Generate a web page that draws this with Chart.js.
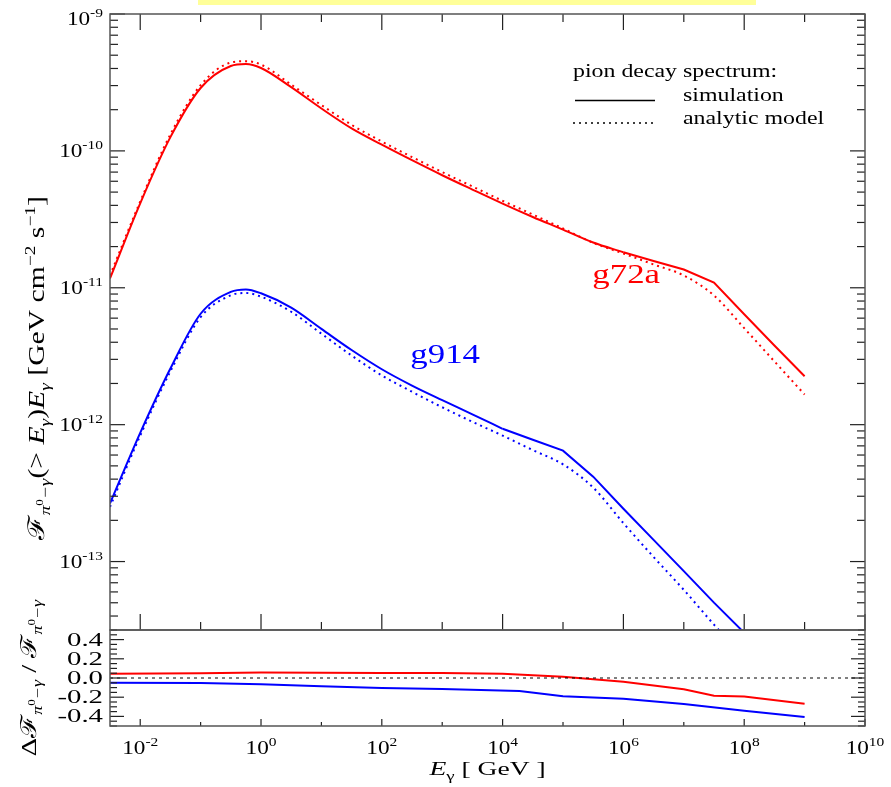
<!DOCTYPE html>
<html>
<head>
<meta charset="utf-8">
<script src="https://cdn.jsdelivr.net/npm/chart.js@4.4.0/dist/chart.umd.min.js"></script>
<style>
  html, body { margin: 0; padding: 0; background: #fff; }
  #wrap { position: relative; width: 891px; height: 787px; overflow: hidden; }
  #topChart { position: absolute; left: 0; top: 0; }
  #ratioChart { position: absolute; left: 0; top: 560px; }
  #strip { position: absolute; left: 198px; top: 0; width: 558px; height: 5px; background: #ffff99; }
</style>
</head>
<body>
<div id="wrap">
  <canvas id="topChart" width="891" height="631"></canvas>
  <canvas id="ratioChart" width="891" height="227"></canvas>
  <div id="strip"></div>
</div>
<script>
// Pion decay spectrum: simulation vs analytic model, two remnants

// photon energy grid [GeV]
const energyGeV = [3.16e-3, 1e-2, 3.16e-2, 0.1, 0.316, 0.562, 1, 3.16, 10, 31.6, 100, 316, 1e3, 3.16e3,
    1e4, 3.16e4, 1e5, 3.16e5, 1e6, 3.16e6, 1e7, 3.16e7, 1e8, 3.16e8, 1e9];

// integral flux times E [GeV cm^-2 s^-1]
const g72aSim = [1.17e-11, 4.14e-11, 1.26e-10, 2.88e-10, 4.17e-10, 4.31e-10, 4.03e-10, 2.92e-10, 2.04e-10,
    1.46e-10, 1.11e-10, 8.55e-11, 6.64e-11, 5.22e-11, 4.12e-11, 3.29e-11, 2.66e-11, 2.14e-11, 1.82e-11,
    1.57e-11, 1.36e-11, 1.09e-11, 6.41e-12, 3.79e-12, 2.26e-12];
const g72aModel = [1.23e-11, 4.27e-11, 1.32e-10, 3.02e-10, 4.42e-10, 4.52e-10, 4.27e-10, 3.05e-10, 2.16e-10,
    1.55e-10, 1.17e-10, 9.02e-11, 7.00e-11, 5.50e-11, 4.32e-11, 3.43e-11, 2.71e-11, 2.13e-11, 1.78e-11,
    1.48e-11, 1.23e-11, 8.79e-12, 5.07e-12, 2.90e-12, 1.66e-12];
const g914Sim = [2.66e-13, 8.71e-13, 2.57e-12, 6.46e-12, 9.33e-12, 9.73e-12, 9.12e-12, 7.16e-12, 5.01e-12,
    3.51e-12, 2.54e-12, 1.93e-12, 1.51e-12, 1.19e-12, 9.33e-13, 7.76e-13, 6.46e-13, 4.17e-13, 2.43e-13,
    1.44e-13, 8.51e-14, 5.01e-14, 3.02e-14, 1.78e-14, 1.05e-14];
const g914Model = [2.51e-13, 8.32e-13, 2.45e-12, 6.10e-12, 8.81e-12, 9.16e-12, 8.61e-12, 6.68e-12, 4.62e-12,
    3.20e-12, 2.29e-12, 1.74e-12, 1.34e-12, 1.05e-12, 8.32e-13, 6.52e-13, 5.13e-13, 3.47e-13, 1.91e-13,
    1.08e-13, 6.21e-14, 3.46e-14, 1.98e-14, 1.11e-14, 6.22e-15];

// the simulated spectra are coarse at high energy: straight segments from these indices on
const g72aKneeIndex = 18;
const g914KneeIndex = 14;

// relative difference panel
const g72aRatioE = [3.16e-3, 0.1, 1, 10, 100, 1e3, 1e4, 1e5, 1e6, 1e7, 3.16e7, 1e8, 1e9];
const g72aRatio = [0.043, 0.05, 0.057, 0.055, 0.052, 0.052, 0.043, 0.014, -0.04, -0.118, -0.185, -0.193, -0.267];
const g914RatioE = [3.16e-3, 0.1, 1, 10, 100, 1e3, 1.9e4, 1e5, 1e6, 1e7, 1e8, 1e9];
const g914Ratio = [-0.05, -0.052, -0.065, -0.085, -0.103, -0.115, -0.136, -0.189, -0.217, -0.27, -0.342, -0.406];

// tick labels
const xTickExp = [-2, 0, 2, 4, 6, 8, 10];
const xTickLabels = ['-2', '0', '2', '4', '6', '8', '10'];
const fluxTickExp = [-13, -12, -11, -10, -9];
const fluxTickLabels = ['-13', '-12', '-11', '-10', '-9'];
const ratioTickValues = [-0.4, -0.2, 0, 0.2, 0.4];
const ratioTickLabels = ['-0.4', '-0.2', '0.0', '0.2', '0.4'];

const RED = '#ff0000';
const BLUE = '#0000ff';
const X_MIN = 3.16e-3;
const X_MAX = 1e10;
const SERIF = '"Liberation Serif", "Times New Roman", "DejaVu Serif", serif';

function pts(xs, ys, from, to) {
    const out = xs.map((e, i) => ({ x: e, y: ys[i] }));
    return out.slice(from || 0, to === undefined ? out.length : to);
}

function font(size, italic) {
    return (italic ? 'italic ' : '') + size + 'px ' + SERIF;
}

// draw a row of text runs (for sub/superscripts), stretched horizontally
function drawRuns(ctx, runs, x, y, opt) {
    const sx = opt.sx || 1;
    ctx.save();
    ctx.translate(x, y);
    if (opt.rotate) ctx.rotate(opt.rotate);
    ctx.scale(sx, 1);
    ctx.fillStyle = opt.color || '#000';
    ctx.textBaseline = 'alphabetic';
    ctx.textAlign = 'left';
    let w = 0;
    runs.forEach(r => {
        ctx.font = font(r.size, r.italic);
        r.w = ctx.measureText(r.t).width;
        w += r.w;
    });
    let cx = opt.align === 'center' ? -w / 2 : opt.align === 'right' ? -w : 0;
    runs.forEach(r => {
        ctx.font = font(r.size, r.italic);
        ctx.fillText(r.t, cx, r.dy || 0);
        cx += r.w;
    });
    ctx.restore();
}

function seg(ctx, x1, y1, x2, y2) {
    ctx.beginPath();
    ctx.moveTo(x1, y1);
    ctx.lineTo(x2, y2);
    ctx.stroke();
}

function pionRuns(size) {
    const s = Math.round(size * 0.64);
    return [
        { t: '\u2131', size: size },
        { t: '\u03c0', size: s, italic: true, dy: 6 },
        { t: '0', size: Math.round(size * 0.45), dy: -1 },
        { t: '\u2212\u03b3', size: s, italic: true, dy: 6 }
    ];
}

const topDecor = {
    id: 'topDecor',
    afterDraw(chart) {
        const { ctx, chartArea: a, scales: { x, y } } = chart;
        ctx.save();
        ctx.strokeStyle = '#222';
        ctx.lineWidth = 1.2;

        // x ticks, pointing inward on top and bottom
        for (let p = -2; p <= 10; p++) {
            const px = x.getPixelForValue(Math.pow(10, p));
            const len = p % 2 === 0 ? 16 : 8;
            seg(ctx, px, a.top, px, a.top + len);
            seg(ctx, px, a.bottom, px, a.bottom - len);
        }
        // y ticks, decades and 2..9
        for (let d = -14; d <= -9; d++) {
            for (let k = 1; k <= 9; k++) {
                const v = k * Math.pow(10, d);
                if (v < y.min * 0.999 || v > y.max * 1.001) continue;
                const py = y.getPixelForValue(v);
                const len = k === 1 ? 15 : 8;
                seg(ctx, a.left, py, a.left + len, py);
                seg(ctx, a.right, py, a.right - len, py);
            }
        }

        ctx.strokeStyle = '#555';
        ctx.lineWidth = 1.5;
        ctx.strokeRect(a.left, a.top, a.right - a.left, a.bottom - a.top);

        // y tick labels
        fluxTickExp.forEach((e, i) => {
            const py = y.getPixelForValue(Math.pow(10, e));
            const base = Math.max(py + 6, a.top + 11);
            drawRuns(ctx, [
                { t: '10', size: 18 },
                { t: fluxTickLabels[i], size: 12, dy: -8 }
            ], 103, base, { sx: 1.29, align: 'right' });
        });

        // y axis title
        drawRuns(ctx, pionRuns(23).concat([
            { t: '(> ', size: 23 },
            { t: 'E', size: 23, italic: true },
            { t: '\u03b3', size: 15, italic: true, dy: 6 },
            { t: ')', size: 23 },
            { t: 'E', size: 23, italic: true },
            { t: '\u03b3', size: 15, italic: true, dy: 6 },
            { t: ' [GeV cm', size: 23 },
            { t: '\u22122', size: 15, dy: -9 },
            { t: ' s', size: 23 },
            { t: '\u22121', size: 15, dy: -9 },
            { t: ']', size: 23 }
        ]), 44, 368, { sx: 1.29, align: 'center', rotate: -Math.PI / 2 });

        // legend
        drawRuns(ctx, [{ t: 'pion decay spectrum:', size: 18.5 }], 573, 77, { sx: 1.29 });
        drawRuns(ctx, [{ t: 'simulation', size: 18.5 }], 683, 101, { sx: 1.29 });
        drawRuns(ctx, [{ t: 'analytic model', size: 18.5 }], 683, 124, { sx: 1.29 });
        ctx.strokeStyle = '#000';
        ctx.lineWidth = 1.6;
        seg(ctx, 575, 100.5, 655, 100.5);
        ctx.setLineDash([2, 4]);
        seg(ctx, 573, 123, 656, 123);
        ctx.setLineDash([]);

        // remnant names next to their curves
        drawRuns(ctx, [{ t: 'g72a', size: 27 }], x.getPixelForValue(3.06e5), y.getPixelForValue(1.08e-11),
            { sx: 1.29, color: RED });
        drawRuns(ctx, [{ t: 'g914', size: 27 }], x.getPixelForValue(297), y.getPixelForValue(2.84e-12),
            { sx: 1.29, color: BLUE });
        ctx.restore();
    }
};

const ratioDecor = {
    id: 'ratioDecor',
    afterDraw(chart) {
        const { ctx, chartArea: a, scales: { x, y } } = chart;
        ctx.save();
        ctx.strokeStyle = '#222';
        ctx.lineWidth = 1.2;

        for (let p = -2; p <= 10; p++) {
            const px = x.getPixelForValue(Math.pow(10, p));
            const len = p % 2 === 0 ? 7 : 4;
            seg(ctx, px, a.bottom, px, a.bottom - len);
        }
        for (let i = -10; i <= 10; i++) {
            const py = y.getPixelForValue(i * 0.05);
            const len = i % 4 === 0 ? 14 : 7;
            seg(ctx, a.left, py, a.left + len, py);
            seg(ctx, a.right, py, a.right - len, py);
        }

        ctx.strokeStyle = '#555';
        ctx.lineWidth = 1.5;
        ctx.strokeRect(a.left, a.top, a.right - a.left, a.bottom - a.top);

        ratioTickValues.forEach((v, i) => {
            drawRuns(ctx, [{ t: ratioTickLabels[i], size: 18 }], 103, y.getPixelForValue(v) + 6,
                { sx: 1.6, align: 'right' });
        });

        xTickExp.forEach((e, i) => {
            drawRuns(ctx, [
                { t: '10', size: 18 },
                { t: xTickLabels[i], size: 12, dy: -8 }
            ], x.getPixelForValue(Math.pow(10, e)), a.bottom + 28, { sx: 1.29, align: 'center' });
        });

        drawRuns(ctx, [
            { t: 'E', size: 19, italic: true },
            { t: '\u03b3', size: 13, dy: 5 },
            { t: ' [ GeV ]', size: 19 }
        ], (a.left + a.right) / 2, a.bottom + 49, { sx: 1.45, align: 'center' });

        drawRuns(ctx, [{ t: '\u0394', size: 22 }].concat(pionRuns(22), [{ t: ' / ', size: 22 }], pionRuns(22)),
            36, (a.top + a.bottom) / 2, { sx: 1.29, align: 'center', rotate: -Math.PI / 2 });
        ctx.restore();
    }
};

function lineSet(label, data, color, dotted, smooth) {
    return {
        label: label,
        data: data,
        borderColor: color,
        borderWidth: 2,
        borderDash: dotted ? [2, 4] : [],
        pointRadius: 0,
        fill: false,
        tension: 0,
        cubicInterpolationMode: smooth ? 'monotone' : 'default'
    };
}

new Chart(document.getElementById('topChart').getContext('2d'), {
    type: 'line',
    data: {
        datasets: [
            lineSet('g72a simulation', pts(energyGeV, g72aSim, 0, g72aKneeIndex + 1), RED, false, true),
            lineSet('g72a simulation (high E)', pts(energyGeV, g72aSim, g72aKneeIndex), RED, false, false),
            lineSet('g72a analytic model', pts(energyGeV, g72aModel), RED, true, true),
            lineSet('g914 simulation', pts(energyGeV, g914Sim, 0, g914KneeIndex + 1), BLUE, false, true),
            lineSet('g914 simulation (high E)', pts(energyGeV, g914Sim, g914KneeIndex), BLUE, false, false),
            lineSet('g914 analytic model', pts(energyGeV, g914Model), BLUE, true, true)
        ]
    },
    options: {
        responsive: false,
        animation: false,
        layout: { padding: { left: 110, right: 26, top: 14, bottom: 1 } },
        plugins: { legend: { display: false }, tooltip: { enabled: false } },
        scales: {
            x: { type: 'logarithmic', min: X_MIN, max: X_MAX, display: false },
            y: { type: 'logarithmic', min: 3.1623e-14, max: 1e-9, display: false }
        }
    },
    plugins: [topDecor]
});

new Chart(document.getElementById('ratioChart').getContext('2d'), {
    type: 'line',
    data: {
        datasets: [
            {
                label: 'zero',
                data: pts([X_MIN, X_MAX], [0, 0]),
                borderColor: '#000',
                borderWidth: 1,
                borderDash: [3, 4],
                pointRadius: 0
            },
            {
                label: 'g72a',
                data: pts(g72aRatioE, g72aRatio),
                borderColor: RED,
                borderWidth: 2,
                pointRadius: 0
            },
            {
                label: 'g914',
                data: pts(g914RatioE, g914Ratio),
                borderColor: BLUE,
                borderWidth: 2,
                pointRadius: 0
            }
        ]
    },
    options: {
        responsive: false,
        animation: false,
        layout: { padding: { left: 110, right: 26, top: 70, bottom: 61 } },
        plugins: { legend: { display: false }, tooltip: { enabled: false } },
        scales: {
            x: { type: 'logarithmic', min: X_MIN, max: X_MAX, display: false },
            y: { type: 'linear', min: -0.5, max: 0.5, display: false }
        }
    },
    plugins: [ratioDecor]
});
</script>
</body>
</html>
